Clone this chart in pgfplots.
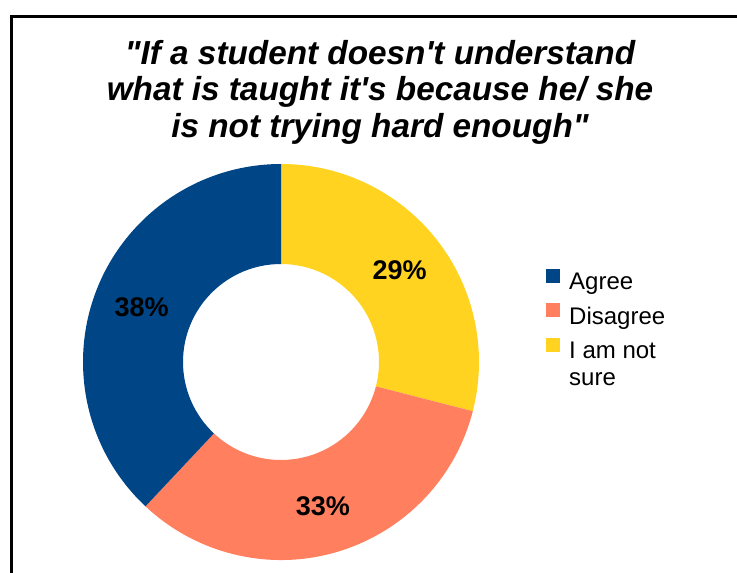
\documentclass[border=0pt]{standalone}
\usepackage{pgfplots}
\pgfplotsset{compat=1.18}
\usepackage{fontspec}
\setmainfont{Liberation Sans}
\definecolor{cagree}{HTML}{004586}
\definecolor{cdis}{HTML}{FF7F5F}
\definecolor{cnot}{HTML}{FFD320}
% data (percent)
\def\vNot{29}
\def\vDis{33}
\def\vAgree{38}
\def\cx{281}
\def\cy{211}
\def\Ro{198}
\def\Ri{98}
\newcommand\donutwedge[3]{% color, start angle, end angle
  \fill[#1] (axis cs:{\cx+\Ro*cos(#2)},{\cy+\Ro*sin(#2)}) arc[start angle=#2, end angle=#3, radius=\Ro pt]
    -- (axis cs:{\cx+\Ri*cos(#3)},{\cy+\Ri*sin(#3)}) arc[start angle=#3, end angle=#2, radius=\Ri pt] -- cycle;}
\begin{document}
\begin{tikzpicture}[x=1pt,y=1pt]
\useasboundingbox (0,0) rectangle (737,573);
\clip (0,0) rectangle (737,573);
\draw[line width=2.2pt] (11.5,-20) -- (11.5,556.5) -- (760,556.5);
\begin{axis}[at={(0,0)}, anchor=south west, x=1pt, y=1pt,
  xmin=0, xmax=737, ymin=0, ymax=573, hide axis, clip=false,
  legend style={at={(axis cs:546,304)}, anchor=north west, draw=none, fill=none,
    font=\fontsize{24}{28}\selectfont, row sep=11pt, inner sep=0pt,
    nodes={inner sep=1pt}, cells={anchor=west}, column sep=8pt},
  legend image code/.code={\path[#1] (0pt,-1pt) rectangle (14pt,13pt);}]
\pgfmathsetmacro\aA{90}
\pgfmathsetmacro\aB{90-3.6*\vNot}
\pgfmathsetmacro\aC{\aB-3.6*\vDis}
\pgfmathsetmacro\aD{\aC-3.6*\vAgree}
\donutwedge{cnot}{\aA}{\aB}
\donutwedge{cdis}{\aB}{\aC}
\donutwedge{cagree}{\aC}{\aD}
\pgfmathsetmacro\mA{(\aA+\aB)/2}
\pgfmathsetmacro\mB{(\aB+\aC)/2}
\pgfmathsetmacro\mC{(\aC+\aD)/2}
\def\Rl{150}
\node[font=\fontsize{27}{30}\selectfont\bfseries] at (axis cs:{\cx+\Rl*cos(\mA)},{\cy+\Rl*sin(\mA)}) {\vNot\%};
\node[font=\fontsize{27}{30}\selectfont\bfseries] at (axis cs:{\cx+\Rl*cos(\mB)},{\cy+\Rl*sin(\mB)}) {\vDis\%};
\node[font=\fontsize{27}{30}\selectfont\bfseries] at (axis cs:{\cx+\Rl*cos(\mC)},{\cy+\Rl*sin(\mC)}) {\vAgree\%};
\addlegendimage{fill=cagree, draw=none}
\addlegendentry{Agree}
\addlegendimage{fill=cdis, draw=none}
\addlegendentry{Disagree}
\addlegendimage{fill=cnot, draw=none}
\addlegendentry{I am not}
\addlegendimage{empty legend}
\addlegendentry{sure}
\node[anchor=base, font=\fontsize{33.3}{37}\selectfont\bfseries\itshape] at (axis cs:380,508) {\textquotedbl If a student doesn\textquotesingle t understand};
\node[anchor=base, font=\fontsize{33.3}{37}\selectfont\bfseries\itshape] at (axis cs:380,472) {what is taught it\textquotesingle s because he/ she};
\node[anchor=base, font=\fontsize{33.3}{37}\selectfont\bfseries\itshape] at (axis cs:380,435) {is not trying hard enough\textquotedbl};
\end{axis}
\end{tikzpicture}
\end{document}
